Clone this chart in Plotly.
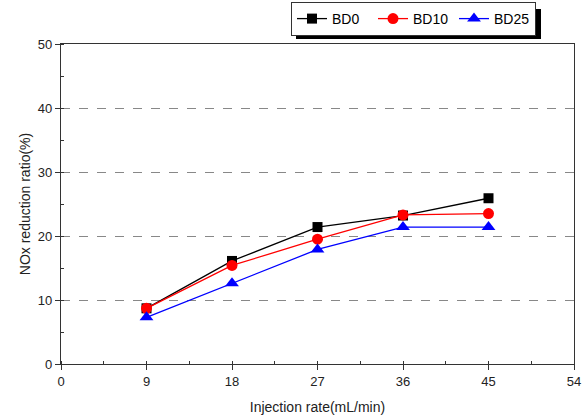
import plotly.graph_objects as go

x_rate = [9, 18, 27, 36, 45]
bd0 = [8.7, 16.1, 21.4, 23.2, 25.9]
bd10 = [8.7, 15.4, 19.5, 23.3, 23.5]
bd25 = [7.3, 12.6, 17.9, 21.4, 21.4]
x_ticks = [0, 9, 18, 27, 36, 45, 54]
y_ticks = [0, 10, 20, 30, 40, 50]

fig = go.Figure()
fig.add_trace(go.Scatter(x=x_rate, y=bd0, name="BD0", mode="lines+markers",
                         line=dict(color="black", width=1.3),
                         marker=dict(symbol="square", size=10, color="black")))
fig.add_trace(go.Scatter(x=x_rate, y=bd10, name="BD10", mode="lines+markers",
                         line=dict(color="red", width=1.3),
                         marker=dict(symbol="circle", size=11, color="red")))
fig.add_trace(go.Scatter(x=x_rate, y=bd25, name="BD25", mode="lines+markers",
                         line=dict(color="blue", width=1.3),
                         marker=dict(symbol="triangle-up", size=12, color="blue")))

axis_common = dict(showline=True, linecolor="#333", linewidth=1.3, mirror=True,
                   ticks="outside", ticklen=5, tickwidth=1.2, tickcolor="#333",
                   zeroline=False,
                   tickfont=dict(family="Liberation Sans, Arial", size=13, color="#222"))

fig.update_xaxes(range=[0, 54], tickvals=x_ticks, showgrid=False,
                 minor=dict(dtick=4.5, ticks="inside", ticklen=3, tickcolor="#333", showgrid=False),
                 title=dict(text="Injection rate(mL/min)", font=dict(family="Liberation Sans, Arial", size=14, color="#222"), standoff=14),
                 **axis_common)
fig.update_yaxes(range=[0, 50], tickvals=y_ticks, showgrid=True,
                 gridcolor="#888", griddash="dash", gridwidth=1,
                 minor=dict(dtick=5, ticks="inside", ticklen=3, tickcolor="#333", showgrid=False),
                 title=dict(text="NOx reduction ratio(%)", font=dict(family="Liberation Sans, Arial", size=14, color="#222"), standoff=3),
                 **axis_common)

PW, PH, L, B = 513, 320, 61, 56
H = 420
def px_x(px):
    return (px - L) / PW
def px_y(py):
    return (H - B - py) / PH

# legend shadow
fig.add_shape(type="rect", xref="paper", yref="paper",
              x0=px_x(296), x1=px_x(541), y0=px_y(39), y1=px_y(9),
              fillcolor="black", line=dict(width=0), layer="below")

fig.update_layout(
    width=583, height=420,
    margin=dict(l=L, r=9, t=44, b=B, autoexpand=False),
    paper_bgcolor="white", plot_bgcolor="white",
    showlegend=True,
    legend=dict(orientation="h", x=px_x(291), y=px_y(2),
                xanchor="left", yanchor="top",
                bgcolor="white", bordercolor="#333", borderwidth=1,
                font=dict(family="Liberation Sans, Arial", size=14, color="black"),
                tracegroupgap=0, itemwidth=30,
                entrywidth=36),
)

fig.write_html("out.html", config={"displayModeBar": False},
               post_script="document.body.style.margin='0';window.dispatchEvent(new Event('resize'));")
